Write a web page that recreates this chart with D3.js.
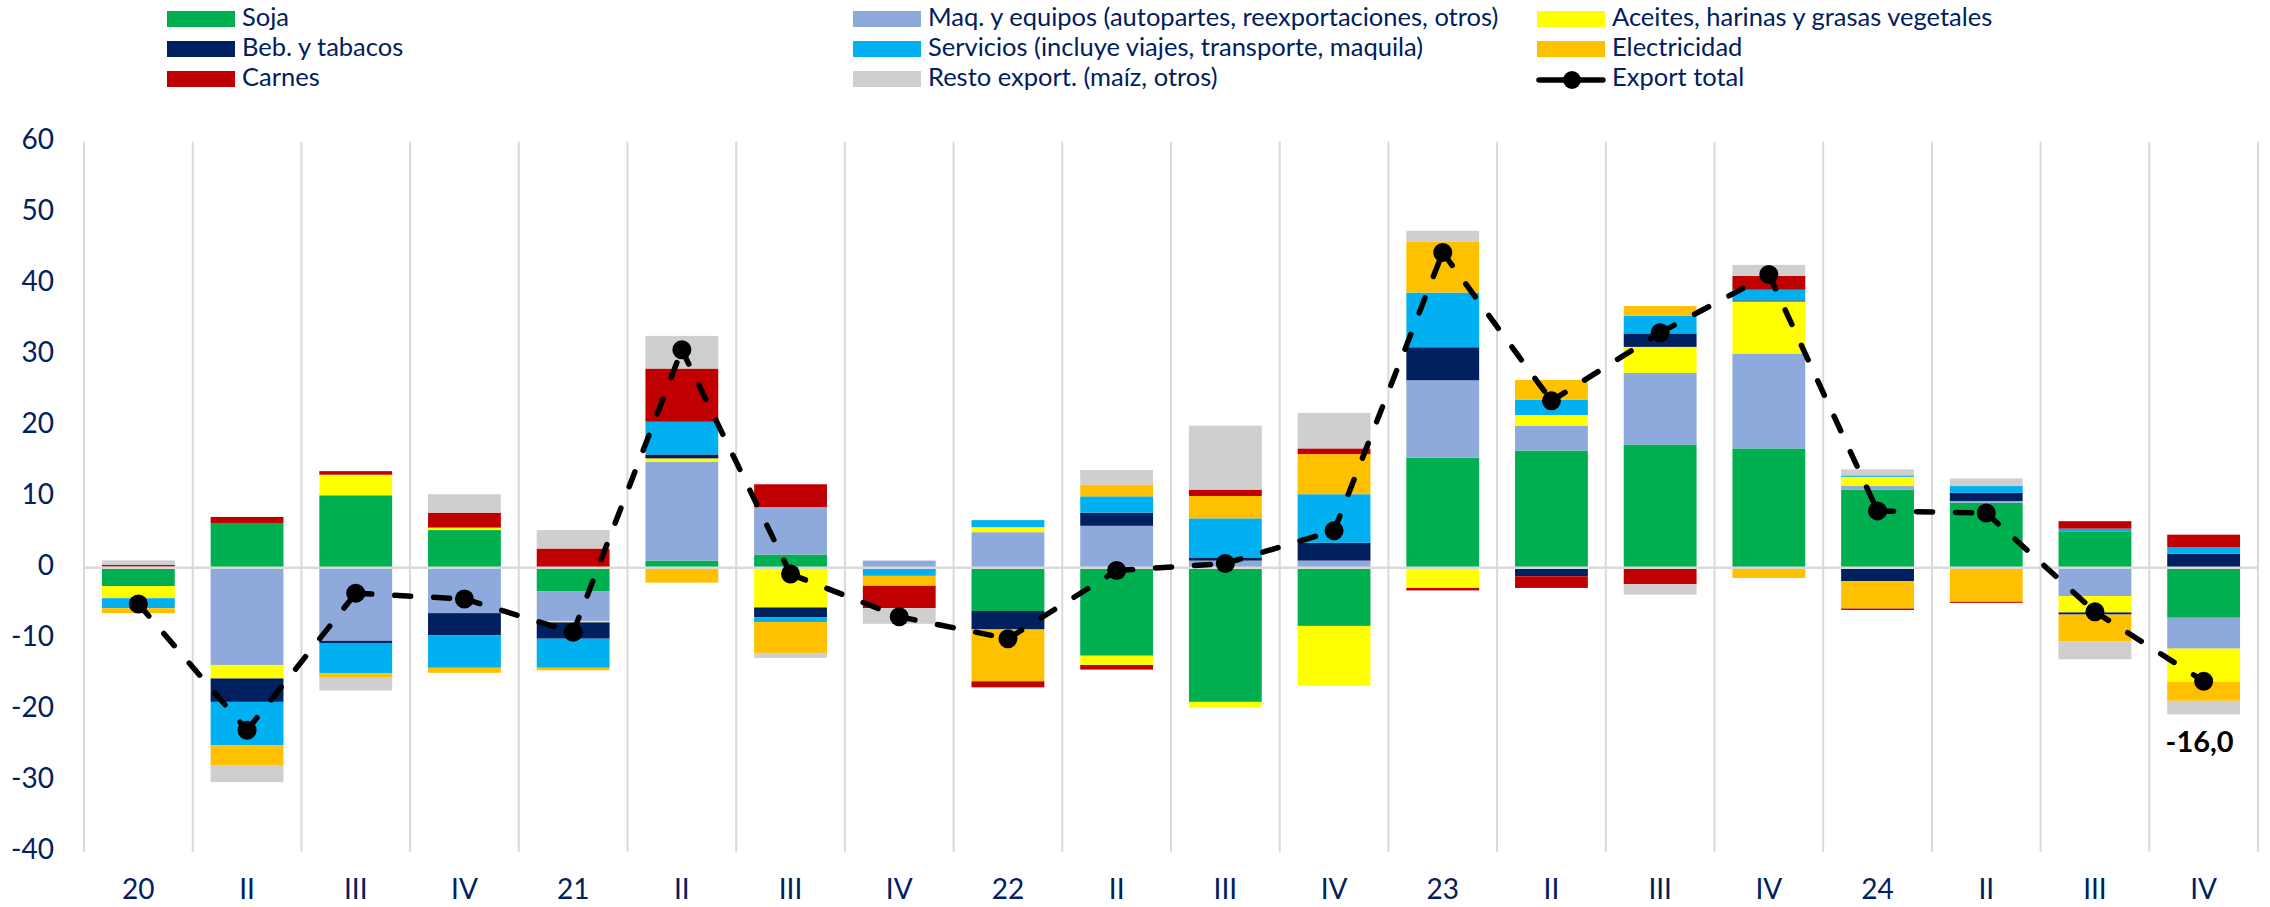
<!DOCTYPE html>
<html>
<head>
<meta charset="utf-8">
<style>
  body { margin: 0; background: #fff; }
  svg { display: block; font-family: Lato, "Open Sans", sans-serif; }
  .tick-label { font-size: 28px; fill: #002060; }
  .legend-text { font-size: 25.5px; fill: #002060; }
  .value-label { font-size: 29px; font-weight: 700; fill: #000; }
</style>
</head>
<body>
<div id="chart"></div>
<script src="https://d3js.org/d3.v7.min.js"></script>
<script>
  // quarters 2020-2024
  var quarterLabels = ["20", "II", "III", "IV", "21", "II", "III", "IV", "22", "II",
                       "III", "IV", "23", "II", "III", "IV", "24", "II", "III", "IV"];

  var seriesNames = ["Soja", "Maq. y equipos (autopartes, reexportaciones, otros)",
                     "Aceites, harinas y grasas vegetales", "Beb. y tabacos",
                     "Servicios (incluye viajes, transporte, maquila)", "Electricidad",
                     "Carnes", "Resto export. (maíz, otros)"];

  var soja         = [-2.6, 6.3, 10.2, 5.3, -3.3, 1.0, 1.85, -0.3, -6.1, -12.4, -18.9, -8.2, 15.5, 16.5, 17.35, 16.8, 11.0, 9.15, 5.05, -7.05];
  var maquinaria   = [0.15, -13.7, -10.3, -6.4, -4.2, 13.9, 6.7, 1.0, 5.0, 5.9, 1.0, 1.0, 10.9, 3.5, 10.1, 13.35, 0.5, 0.25, -4.0, -4.35];
  var aceites      = [-1.7, -1.9, 2.9, 0.35, -0.2, 0.5, -5.6, 0, 0.7, -1.3, -0.8, -8.4, -2.85, 1.5, 3.65, 7.35, 1.3, 0, -2.3, -4.65];
  var bebidas      = [0, -3.3, -0.3, -3.1, -2.3, 0.55, -1.35, 0, -2.6, 1.85, 0.45, 2.5, 4.65, -1.2, 1.9, 0.15, -1.9, 1.15, -0.3, 1.95];
  var servicios    = [-1.4, -6.1, -4.3, -4.6, -4.1, 4.6, -0.7, -0.85, 1.0, 2.3, 5.5, 6.85, 7.7, 2.15, 2.5, 1.5, 0.2, 0.95, 0.45, 0.9];
  var electricidad = [-0.7, -2.8, -0.5, -0.7, -0.35, -2.1, -4.35, -1.4, -7.3, 1.65, 3.15, 5.65, 7.2, 2.8, 1.35, -1.45, -3.85, -4.8, -3.8, -2.7];
  var carnes       = [0.23, 0.85, 0.5, 2.1, 2.7, 7.5, 3.2, -3.15, -0.85, -0.65, 0.9, 0.8, -0.35, -1.65, -2.3, 1.95, -0.2, -0.15, 1.05, 1.8];
  var resto        = [0.65, -2.4, -1.9, 2.6, 2.6, 4.6, -0.7, -2.2, 0, 2.05, 9.0, 5.0, 1.5, 0, -1.5, 1.55, 0.85, 1.08, -2.5, -1.9];

  var exportTotal  = [-5.1, -22.9, -3.6, -4.4, -9.1, 30.7, -0.9, -6.9, -10.0, -0.4, 0.6, 5.2, 44.4, 23.5, 33.1, 41.3, 8.0, 7.7, -6.2, -16.0];

  var yTicks = [60, 50, 40, 30, 20, 10, 0, -10, -20, -30, -40];

  var colors = ["#00B050", "#8EA9DB", "#FFFF00", "#002060", "#00B0F0", "#FFC000", "#C00000", "#D0CECE"];

  var width = 2270, height = 907;
  var grid = "#d9d9d9";

  var svg = d3.select("#chart").append("svg")
    .attr("width", width)
    .attr("height", height);

  var x = d3.scaleBand()
    .domain(d3.range(quarterLabels.length))
    .range([84, 2258])
    .paddingInner(0.33)
    .paddingOuter(0.165);

  var y = d3.scaleLinear()
    .domain([-40, 60])
    .range([851.7, 141.7]);

  // vertical gridlines between quarters
  var step = x.step();
  var x0 = x.range()[0];
  svg.append("g").selectAll("line")
    .data(d3.range(quarterLabels.length + 1))
    .enter().append("line")
    .attr("x1", i => x0 + i * step)
    .attr("x2", i => x0 + i * step)
    .attr("y1", y(60))
    .attr("y2", y(-40))
    .attr("stroke", grid)
    .attr("stroke-width", 2);

  // y labels
  svg.append("g").selectAll("text")
    .data(yTicks)
    .enter().append("text")
    .attr("class", "tick-label")
    .attr("x", 54)
    .attr("y", d => y(d))
    .attr("text-anchor", "end")
    .attr("dominant-baseline", "middle")
    .text(d => String(d));

  // x labels
  svg.append("g").selectAll("text")
    .data(quarterLabels)
    .enter().append("text")
    .attr("class", "tick-label")
    .attr("x", (d, i) => x(i) + x.bandwidth() / 2)
    .attr("y", 892)
    .attr("text-anchor", "middle")
    .attr("dominant-baseline", "middle")
    .text(d => d);

  // stacked bars
  var rows = quarterLabels.map(function(q, i) {
    return [soja[i], maquinaria[i], aceites[i], bebidas[i], servicios[i], electricidad[i], carnes[i], resto[i]];
  });

  var stack = d3.stack()
    .keys(d3.range(seriesNames.length))
    .offset(d3.stackOffsetDiverging);

  var layers = stack(rows);

  svg.append("g").selectAll("g")
    .data(layers)
    .enter().append("g")
    .attr("fill", (d, i) => colors[i])
    .selectAll("rect")
    .data(d => d)
    .enter().append("rect")
    .attr("x", (d, i) => x(i))
    .attr("width", x.bandwidth())
    .attr("y", d => y(Math.max(d[0], d[1])))
    .attr("height", d => Math.abs(y(d[0]) - y(d[1])));

  // zero line
  svg.append("line")
    .attr("x1", x0)
    .attr("x2", x0 + step * quarterLabels.length)
    .attr("y1", y(0))
    .attr("y2", y(0))
    .attr("stroke", grid)
    .attr("stroke-width", 2.5);

  // export total, dashed segments then markers
  var pts = exportTotal.map((v, i) => [x(i) + x.bandwidth() / 2, y(v)]);
  svg.append("g").selectAll("line")
    .data(d3.pairs(pts))
    .enter().append("line")
    .attr("x1", d => d[0][0])
    .attr("y1", d => d[0][1])
    .attr("x2", d => d[1][0])
    .attr("y2", d => d[1][1])
    .attr("stroke", "#000")
    .attr("stroke-width", 5.5)
    .attr("stroke-linecap", "round")
    .attr("stroke-dasharray", "16 23");

  svg.append("g").selectAll("circle")
    .data(pts)
    .enter().append("circle")
    .attr("cx", d => d[0])
    .attr("cy", d => d[1])
    .attr("r", 9.5)
    .attr("fill", "#000");

  // last value label
  var last = exportTotal.length - 1;
  var lastBottom = d3.min(layers, l => l[last][0]);
  svg.append("text")
    .attr("class", "value-label")
    .attr("x", x(last) + x.bandwidth() / 2 - 4)
    .attr("y", y(lastBottom) + 30)
    .attr("text-anchor", "middle")
    .attr("dominant-baseline", "middle")
    .text(exportTotal[last].toFixed(1).replace(".", ","));

  // legend (3 columns, filled row by row)
  var legendItems = seriesNames.map((n, i) => ({name: n, color: colors[i]}));
  legendItems.push({name: "Export total", line: true});
  var colX = [167, 853, 1537];
  var rowY = [19, 49, 79];

  var leg = svg.append("g").selectAll("g")
    .data(legendItems)
    .enter().append("g")
    .attr("transform", (d, i) => "translate(" + colX[i % 3] + "," + rowY[Math.floor(i / 3)] + ")");

  leg.filter(d => !d.line).append("rect")
    .attr("x", 0)
    .attr("y", -8)
    .attr("width", 68)
    .attr("height", 16)
    .attr("fill", d => d.color);

  var lineLeg = leg.filter(d => d.line);
  lineLeg.append("line")
    .attr("x1", 2).attr("x2", 66)
    .attr("y1", 1).attr("y2", 1)
    .attr("stroke", "#000")
    .attr("stroke-width", 5.5)
    .attr("stroke-linecap", "round");
  lineLeg.append("circle")
    .attr("cx", 35).attr("cy", 1).attr("r", 9)
    .attr("fill", "#000");

  leg.append("text")
    .attr("class", "legend-text")
    .attr("x", 75)
    .attr("y", 1)
    .attr("dominant-baseline", "middle")
    .text(d => d.name);
</script>
</body>
</html>
